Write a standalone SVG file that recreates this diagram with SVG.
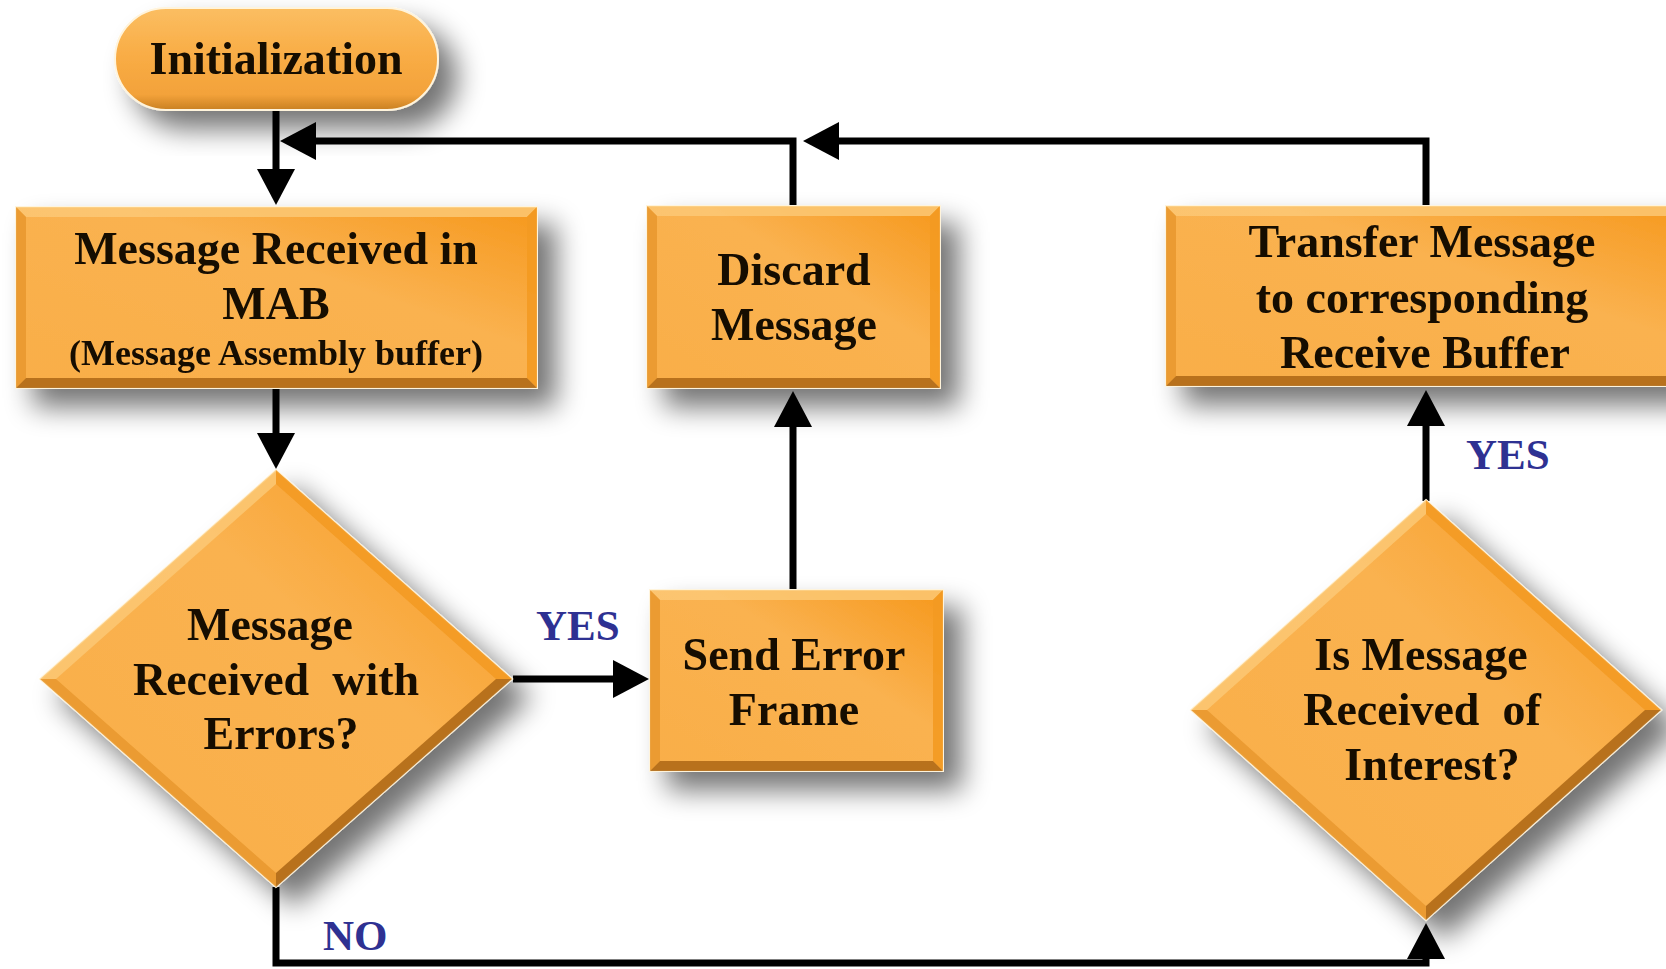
<svg xmlns="http://www.w3.org/2000/svg" width="1666" height="969" viewBox="0 0 1666 969">
  <style>
    .face { fill: url(#faceGrad); stroke: #fff4dc; stroke-width: 2; }
    .pill { fill: url(#pillGrad); stroke: #fff4dc; stroke-width: 2; }
    .bt { fill: #fcc874; opacity: 0.85; }
    .bl { fill: #e9992f; opacity: 0.9; }
    .br { fill: #f39a22; opacity: 0.9; }
    .bb { fill: #b06a18; opacity: 0.9; }
    .t { font-family: "Liberation Serif", "Times New Roman", serif; font-weight: bold; font-size: 46px; fill: #140d05; text-anchor: middle; }
    .small { font-size: 36px; }
    .lbl { font-family: "Liberation Serif", "Times New Roman", serif; font-weight: bold; font-size: 43px; fill: #2e3192; }
    .wire { fill: none; stroke: #000; stroke-width: 7; marker-end: url(#head); }
  </style>
  <defs>
    <linearGradient id="faceGrad" x1="0" y1="1" x2="1" y2="0">
      <stop offset="0" stop-color="#f9ae48"/>
      <stop offset="0.6" stop-color="#fab250"/>
      <stop offset="1" stop-color="#f6981c"/>
    </linearGradient>
    <linearGradient id="pillGrad" x1="0" y1="0" x2="0" y2="1">
      <stop offset="0" stop-color="#fbbe62"/>
      <stop offset="0.45" stop-color="#f9ad46"/>
      <stop offset="0.85" stop-color="#f3a23a"/>
      <stop offset="1" stop-color="#c98023"/>
    </linearGradient>
    <filter id="shadow" x="-25%" y="-25%" width="160%" height="170%">
      <feGaussianBlur in="SourceAlpha" stdDeviation="14"/>
      <feOffset dx="18" dy="18" result="b"/>
      <feComponentTransfer>
        <feFuncA type="linear" slope="0.55"/>
      </feComponentTransfer>
      <feMerge>
        <feMergeNode/>
        <feMergeNode in="SourceGraphic"/>
      </feMerge>
    </filter>
    <marker id="head" viewBox="0 0 36 38" markerWidth="36" markerHeight="38" refX="1" refY="19" orient="auto" markerUnits="userSpaceOnUse">
      <path d="M0,0 L36,19 L0,38 Z" fill="#000"/>
    </marker>
  </defs>

  <rect width="1666" height="969" fill="#ffffff"/>

  <!-- connectors -->
  <g id="connectors">
    <path class="wire" d="M276,110 V170"/>
    <path class="wire" d="M793,206 V141 H315"/>
    <path class="wire" d="M1426,206 V141 H838"/>
    <path class="wire" d="M276,388 V434"/>
    <path class="wire" d="M513,679 H614"/>
    <path class="wire" d="M793,590 V426"/>
    <path class="wire" d="M276,887 V963 H1426 V958"/>
    <path class="wire" d="M1426,501 V425"/>
  </g>

  <!-- start terminal -->
  <g id="init" filter="url(#shadow)">
    <rect class="pill" x="115" y="8" width="323" height="102" rx="51"/>
    <text class="t" x="276" y="74">Initialization</text>
  </g>

  <!-- message assembly buffer -->
  <g id="mab" filter="url(#shadow)">
    <rect class="face" x="16" y="207" width="521" height="181"/>
    <polygon class="bt" points="16,207 537,207 527,217 26,217"/>
    <polygon class="bl" points="16,207 26,217 26,378 16,388"/>
    <polygon class="br" points="537,207 527,217 527,378 537,388"/>
    <polygon class="bb" points="16,388 537,388 527,378 26,378"/>
    <text class="t" x="276" y="264">Message Received in</text>
    <text class="t" x="276" y="319">MAB</text>
    <text class="t small" x="276" y="365">(Message Assembly buffer)</text>
  </g>

  <!-- discard -->
  <g id="discard" filter="url(#shadow)">
    <rect class="face" x="647" y="206" width="293" height="182"/>
    <polygon class="bt" points="647,206 940,206 930,216 657,216"/>
    <polygon class="bl" points="647,206 657,216 657,378 647,388"/>
    <polygon class="br" points="940,206 930,216 930,378 940,388"/>
    <polygon class="bb" points="647,388 940,388 930,378 657,378"/>
    <text class="t" x="794" y="285">Discard</text>
    <text class="t" x="794" y="340">Message</text>
  </g>

  <!-- transfer to receive buffer -->
  <g id="transfer" filter="url(#shadow)">
    <rect class="face" x="1166" y="206" width="540" height="180"/>
    <polygon class="bt" points="1166,206 1706,206 1696,216 1176,216"/>
    <polygon class="bl" points="1166,206 1176,216 1176,376 1166,386"/>
    <polygon class="bb" points="1166,386 1706,386 1696,376 1176,376"/>
    <text class="t" x="1422" y="257">Transfer Message</text>
    <text class="t" x="1422" y="313">to corresponding</text>
    <text class="t" x="1425" y="368">Receive Buffer</text>
  </g>

  <!-- error check -->
  <g id="errcheck" filter="url(#shadow)">
    <polygon class="face" points="276,470 512,679 276,887 40,679"/>
    <polygon class="bt" points="276,470 40,679 56,679 276,484"/>
    <polygon class="br" points="276,470 512,679 496,679 276,484"/>
    <polygon class="bb" points="512,679 276,887 276,873 496,679"/>
    <polygon class="bl" points="276,887 40,679 56,679 276,873"/>
    <text class="t" x="270" y="640">Message</text>
    <text class="t" x="276" y="695" xml:space="preserve">Received  with</text>
    <text class="t" x="281" y="749">Errors?</text>
  </g>

  <!-- send error frame -->
  <g id="senderr" filter="url(#shadow)">
    <rect class="face" x="650" y="590" width="293" height="181"/>
    <polygon class="bt" points="650,590 943,590 933,600 660,600"/>
    <polygon class="bl" points="650,590 660,600 660,761 650,771"/>
    <polygon class="br" points="943,590 933,600 933,761 943,771"/>
    <polygon class="bb" points="650,771 943,771 933,761 660,761"/>
    <text class="t" x="794" y="670">Send Error</text>
    <text class="t" x="794" y="725">Frame</text>
  </g>

  <!-- interest check -->
  <g id="interest" filter="url(#shadow)">
    <polygon class="face" points="1426,500 1661,710 1426,920 1191,710"/>
    <polygon class="bt" points="1426,500 1191,710 1207,710 1426,514"/>
    <polygon class="br" points="1426,500 1661,710 1645,710 1426,514"/>
    <polygon class="bb" points="1661,710 1426,920 1426,906 1645,710"/>
    <polygon class="bl" points="1426,920 1191,710 1207,710 1426,906"/>
    <text class="t" x="1421" y="670">Is Message</text>
    <text class="t" x="1422" y="725" xml:space="preserve">Received  of</text>
    <text class="t" x="1432" y="780">Interest?</text>
  </g>

  <!-- branch labels -->
  <g id="labels">
    <text class="lbl" x="536" y="640">YES</text>
    <text class="lbl" x="1466" y="469">YES</text>
    <text class="lbl" x="323" y="950">NO</text>
  </g>
</svg>
